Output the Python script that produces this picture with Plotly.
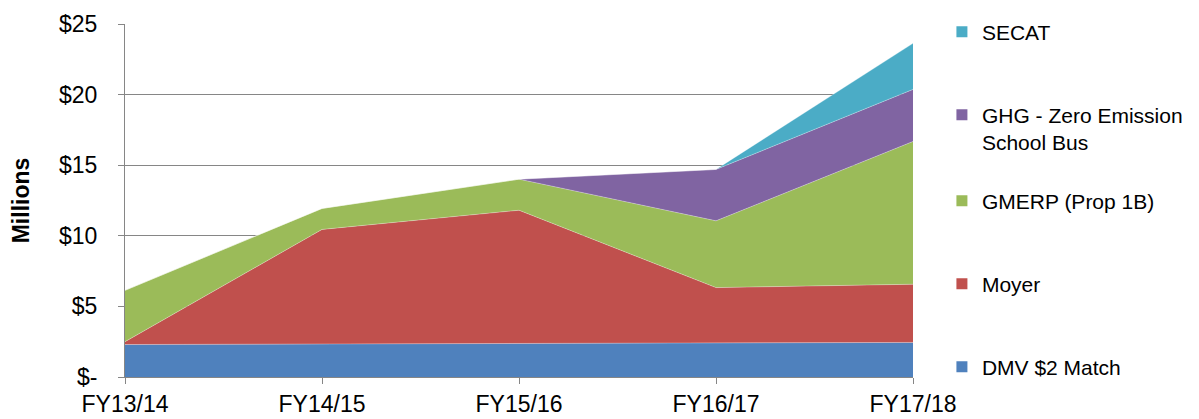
import plotly.graph_objects as go

years = ["FY13/14", "FY14/15", "FY15/16", "FY16/17", "FY17/18"]
dmv = [2.3, 2.35, 2.38, 2.4, 2.45]
moyer = [0.2, 8.1, 9.43, 3.93, 4.12]
gmerp = [3.64, 1.49, 2.2, 4.73, 10.11]
ghg = [0, 0, 0, 3.64, 3.69]
secat = [0, 0, 0, 0, 3.26]

y_ticks = [0, 5, 10, 15, 20, 25]
y_labels = ["$-", "$5", "$10", "$15", "$20", "$25"]

series = [
    ("DMV $2 Match", dmv, "#4F81BD"),
    ("Moyer", moyer, "#C0504D"),
    ("GMERP (Prop 1B)", gmerp, "#9BBB59"),
    ("GHG - Zero Emission<br>School Bus", ghg, "#8064A2"),
    ("SECAT", secat, "#4BACC6"),
]
# vertical centre of each legend entry (paper fraction)
legend_y = [0.028, 0.2635, 0.4986, 0.704, 0.977]

xs = list(range(len(years)))
fig = go.Figure()
for name, vals, col in series:
    fig.add_trace(go.Scatter(
        x=xs, y=vals, name=name, mode="lines", stackgroup="one",
        line=dict(width=0.5, color="rgba(255,255,255,0.6)"),
        fillcolor=col, showlegend=False,
    ))

font = "Liberation Sans, Arial, sans-serif"
legends = {}
for i, (name, vals, col) in enumerate(series):
    key = "legend" if i == 0 else f"legend{i + 1}"
    fig.add_trace(go.Scatter(
        x=[None], y=[None], name=name, mode="markers",
        marker=dict(symbol="square", size=11, color=col),
        showlegend=True, legend=key,
    ))
    legends[key] = dict(
        x=1.0367, y=legend_y[i], xanchor="left", yanchor="middle",
        valign="top", font=dict(size=21, family=font), itemwidth=30,
        bgcolor="rgba(0,0,0,0)",
    )

fig.update_layout(
    width=1199, height=419,
    margin=dict(l=117, r=294, t=16, b=50, autoexpand=False),
    plot_bgcolor="white", paper_bgcolor="white",
    font=dict(family=font, size=21, color="#000000"),
    showlegend=True,
    xaxis=dict(
        range=[0, 4], tickvals=xs, ticktext=years,
        showgrid=False, showline=True, linecolor="#868686", linewidth=1,
        ticks="outside", ticklen=6, tickcolor="#868686",
        tickfont=dict(size=23), zeroline=False, ticklabelstandoff=0,
    ),
    yaxis=dict(
        range=[0, 25], tickvals=y_ticks, ticktext=y_labels,
        showgrid=True, gridcolor="#868686", gridwidth=1,
        showline=True, linecolor="#868686", linewidth=1,
        ticks="outside", ticklen=6, tickcolor="#868686",
        tickfont=dict(size=23), zeroline=False, ticklabelstandoff=16,
        title=dict(text="<b>Millions</b>", font=dict(size=23), standoff=22),
    ),
    **legends,
)

fig.write_html("out.html")
